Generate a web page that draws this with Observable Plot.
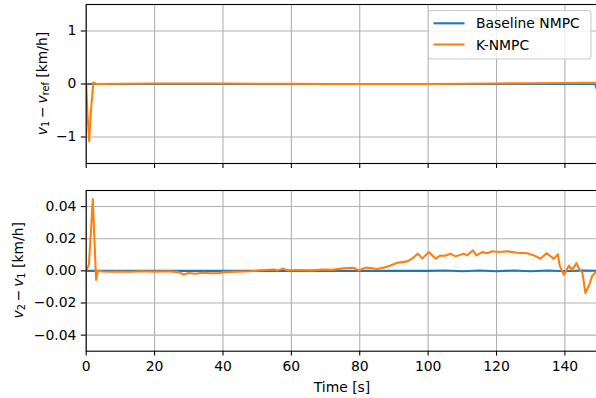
<!DOCTYPE html>
<html><head><meta charset="utf-8">
<script src="https://cdn.jsdelivr.net/npm/d3@7"></script>
<script src="https://cdn.jsdelivr.net/npm/@observablehq/plot@0.6"></script>
<style>
html,body{margin:0;padding:0;background:#fff;overflow:hidden;width:596px;height:398px}
svg{display:block}
</style></head><body><div id="chart"></div>
<script>
// ---- data ----
const seriesNames = ["Baseline NMPC", "K-NMPC"];
const seriesColors = ["#1f77b4", "#ff7f0e"];
const xTicks = [0, 20, 40, 60, 80, 100, 120, 140];
const topYTicks = [-1, 0, 1];
const bottomYTicks = [-0.04, -0.02, 0, 0.02, 0.04];

// top panel: v1 - v_ref [km/h]
const topBaseT = [0, 20, 40, 60, 80, 100, 120, 140, 148.9, 149.4, 150];
const topBaseV = [0, 0, 0, 0, 0, 0, 0, 0, 0, -0.12, -0.25];
const topKT = [0, 0.4, 0.88, 1.4, 2.1, 3, 10, 20, 30, 40, 50, 60, 70, 80, 90, 100, 110, 120, 130, 140, 145, 150];
const topKV = [0, -0.6, -1.08, -0.5, 0.03, 0.0, 0.005, 0.01, 0.01, 0.01, 0.005, 0.005, 0.0, 0.0, 0.0, 0.0, 0.005, 0.01, 0.015, 0.02, 0.025, 0.02];

// bottom panel: v2 - v1 [km/h]
const botBaseT = [0, 20, 40, 60, 80, 100, 105, 110, 115, 120, 125, 130, 135, 140, 145, 150];
const botBaseV = [0, 0, 0, 0, 0, 0, 0.0002, -0.0002, 0.0002, -0.0002, 0.0002, -0.0002, 0.0002, -0.0002, 0.0002, 0];
const botKT = [0, 0.8, 1.4, 1.93, 2.4, 2.9, 3.4, 5, 7, 10, 13, 16, 20, 24, 27, 28.5, 30, 32, 34, 36.4, 38.8, 40, 44, 48, 51, 54.9, 56, 57.5, 59, 62, 66, 69.4, 72, 75.3, 78.3, 79.7, 81.7, 83.6, 85.1, 87, 89, 91, 93.9, 95.3, 97, 98.3, 100.2, 102.2, 103.6, 105, 106.5, 108, 110.4, 111.4, 113.1, 114.1, 115.8, 117.3, 118.7, 120.7, 123.1, 126, 129, 130.9, 132.9, 134.6, 136.8, 137.9, 138.5, 139.7, 141.2, 142.1, 143.4, 144.4, 145.1, 146, 147, 148, 149, 150];
const botKV = [0, 0.004, 0.025, 0.0447, 0.02, -0.0057, 0.0, -0.0004, -0.0006, -0.0004, -0.0006, -0.0003, -0.0005, -0.0003, -0.0008, -0.0023, -0.0013, -0.0018, -0.0012, -0.0015, -0.0015, -0.0008, -0.0005, -0.0003, 0.0004, 0.0008, 0.0003, 0.0013, 0.0003, 0.0005, 0.0003, 0.0008, 0.0006, 0.0016, 0.0019, 0.0002, 0.002, 0.0016, 0.0012, 0.002, 0.0033, 0.005, 0.0059, 0.0076, 0.0107, 0.0076, 0.0117, 0.0076, 0.0096, 0.0094, 0.0107, 0.009, 0.0107, 0.0096, 0.0128, 0.0096, 0.0117, 0.011, 0.0122, 0.0117, 0.0122, 0.0113, 0.011, 0.0096, 0.0075, 0.011, 0.0075, 0.0103, 0.0033, -0.0025, 0.0033, 0.0006, 0.0048, 0.0002, -0.0009, -0.0139, -0.0093, -0.003, -0.0009, 0.0];

const rows = (T, V) => T.map((t, i) => ({t, v: V[i]}));

const W = 596, LEFT = 85.7, RIGHT = -2.6;
const FONT = "DejaVu Sans, sans-serif";
const gridStyle = {stroke: "#b0b0b0", strokeOpacity: 1, strokeWidth: 1.1};
const lineW = 2.08;

function panel({height, top, bottom, yDomain, yTicks, yFmt, base, k, showX}) {
  return Plot.plot({
    width: W, height, marginLeft: LEFT, marginRight: RIGHT, marginTop: top, marginBottom: bottom,
    style: {fontFamily: FONT, fontSize: "13.9px", color: "black", background: "white", overflow: "visible"},
    x: {domain: [0, 150]},
    y: {domain: yDomain},
    marks: [
      Plot.gridX(xTicks, gridStyle),
      Plot.gridY(yTicks, gridStyle),
      Plot.line(base, {x: "t", y: "v", stroke: seriesColors[0], strokeWidth: lineW, clip: true}),
      Plot.line(k, {x: "t", y: "v", stroke: seriesColors[1], strokeWidth: lineW, clip: true}),
      Plot.frame({stroke: "black", strokeWidth: 1.1}),
      Plot.axisX(xTicks, {tickSize: 4.9, tickPadding: 4.9, strokeWidth: 1.1, label: null,
        tickFormat: showX ? d3.format("d") : () => "", fontSize: 13.9}),
      Plot.axisY(yTicks, {tickSize: 4.9, tickPadding: 4.9, strokeWidth: 1.1, label: null,
        tickFormat: yFmt, fontSize: 13.9})
    ]
  });
}

const p1 = panel({height: 176, top: 4, bottom: 13, yDomain: [-1.5, 1.5], yTicks: topYTicks,
  yFmt: d3.format("d"), base: rows(topBaseT, topBaseV), k: rows(topKT, topKV), showX: false});
const p2 = panel({height: 222, top: 14, bottom: 47.3, yDomain: [-0.05, 0.05], yTicks: bottomYTicks,
  yFmt: d3.format(".2f"), base: rows(botBaseT, botBaseV), k: rows(botKT, botKV), showX: true});

const chart = document.getElementById("chart");
chart.appendChild(p1);
chart.appendChild(p2);

// y labels with math-like formatting
function mathLabel(svg, x, y, parts) {
  const t = d3.select(svg).append("text")
    .attr("transform", `translate(${x},${y}) rotate(-90)`)
    .attr("text-anchor", "middle").attr("dominant-baseline", "central")
    .attr("font-family", FONT).attr("font-size", 13.9).attr("fill", "black");
  parts.forEach(([txt, kind]) => {
    const s = t.append("tspan").text(txt);
    if (kind === "i") s.attr("font-style", "italic");
    if (kind === "sub") s.attr("font-size", 9.7).attr("dy", 3);
    if (kind === "after") s.attr("dy", -3);
  });
}
mathLabel(p1, 41.5, 83.5, [["v", "i"], ["1", "sub"], ["\u2009\u2212\u2009", "after"], ["v", "i"], ["ref", "sub"], ["\u00a0[km/h]", "after"]]);
mathLabel(p2, 18, 94.3, [["v", "i"], ["2", "sub"], ["\u2009\u2212\u2009", "after"], ["v", "i"], ["1", "sub"], ["\u00a0[km/h]", "after"]]);

// x label
d3.select(p2).append("text").attr("x", 342).attr("y", 210.7)
  .attr("text-anchor", "middle").attr("dominant-baseline", "central")
  .attr("font-family", FONT).attr("font-size", 13.9).attr("fill", "black").text("Time [s]");

// legend
const lg = d3.select(p1).append("g").attr("text-anchor", "start");
lg.append("rect").attr("x", 428.5).attr("y", 10.5).attr("width", 162.5).attr("height", 48.5)
  .attr("rx", 2.8).attr("fill", "white").attr("fill-opacity", 0.8).attr("stroke", "#cccccc").attr("stroke-width", 1.1);
const legY = [23.3, 44.5];
seriesNames.forEach((name, i) => {
  lg.append("line").attr("x1", 433.5).attr("x2", 464.5).attr("y1", legY[i]).attr("y2", legY[i])
    .attr("stroke", seriesColors[i]).attr("stroke-width", lineW);
  lg.append("text").attr("x", 476).attr("y", legY[i]).attr("dominant-baseline", "central")
    .attr("text-anchor", "start")
    .attr("font-family", FONT).attr("font-size", 13.9).attr("fill", "black").text(name);
});
</script></body></html>
